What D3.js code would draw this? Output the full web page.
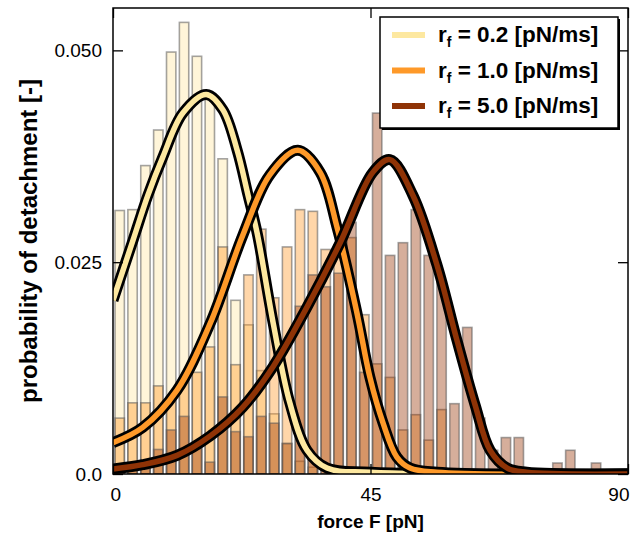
<!DOCTYPE html>
<html>
<head>
<meta charset="utf-8">
<script src="https://cdn.jsdelivr.net/npm/d3@7"></script>
<style>
  body { margin: 0; background: #fff; }
  svg { font-family: "Liberation Sans", Arial, Helvetica, sans-serif; }
</style>
</head>
<body>
<svg id="chart" width="640" height="535"></svg>
<script>
// histogram: 40 bins of 2.25 pN, probability per bin
const binWidth = 2.25;
const lowBins = [0.0311, 0.0312, 0.0364, 0.0406, 0.0498, 0.0533, 0.0493, 0.0445, 0.0372, 0.0205,
  0.0176, 0.0122, 0.0071, 0.0036, 0.0015, 0.0008, 0, 0, 0, 0,
  0, 0, 0, 0, 0, 0, 0, 0, 0, 0, 0, 0, 0, 0, 0, 0, 0, 0, 0, 0];
const midBins = [0.0066, 0.0084, 0.0084, 0.0104, 0.0090, 0.0113, 0.0120, 0.0150, 0.0268, 0.0129,
  0.0235, 0.0289, 0.0208, 0.0268, 0.0312, 0.0310, 0.0265, 0.0270, 0.0279, 0.0188,
  0.0130, 0.0114, 0.0052, 0.0070, 0.0040, 0.0076, 0, 0, 0, 0,
  0, 0, 0, 0, 0, 0, 0, 0, 0, 0];
const highBins = [0.0006, 0.0012, 0.0006, 0.0029, 0.0052, 0.0068, 0.0030, 0.0014, 0.0091, 0.0050,
  0.0044, 0.0068, 0.0060, 0.0036, 0.0198, 0.0235, 0.0221, 0.0237, 0.0297, 0.0120,
  0.0426, 0.0258, 0.0273, 0.0312, 0.0258, 0.0228, 0.0083, 0.0173, 0.0066, 0.0028,
  0.0043, 0.0043, 0, 0, 0.0013, 0.0028, 0, 0.0013, 0, 0];

// fitted curves, [force, probability]
const lowCurve = [[0, 0.0205], [3.5, 0.0276], [6.1, 0.0329], [8.7, 0.0374], [12.2, 0.0426], [16.3, 0.0448],
  [19.2, 0.0430], [21.7, 0.0382], [23.6, 0.0329], [25.2, 0.0284], [28.0, 0.0178], [30.9, 0.0084],
  [33.9, 0.0028], [37.4, 0.0007], [45, 0.0002], [90, 0]];
const midCurve = [[0, 0.0037], [5.2, 0.0055], [11.2, 0.0099], [17.0, 0.0178], [22.7, 0.0282], [27.4, 0.0353],
  [32.3, 0.0382], [36.2, 0.0356], [39.2, 0.0290], [42.6, 0.0191], [44.9, 0.0114], [47.2, 0.0060],
  [49.6, 0.0020], [51.9, 0.0007], [56.6, 0.0002], [90, 0]];
const highCurve = [[0, 0.0006], [5.2, 0.0011], [11.2, 0.0022], [17.0, 0.0045], [22.7, 0.0079], [28.0, 0.0127],
  [33.9, 0.0197], [39.7, 0.0273], [45.4, 0.0356], [48.4, 0.0371], [52.4, 0.0329], [56.6, 0.0247],
  [60.1, 0.0158], [63.3, 0.0081], [65.9, 0.0028], [68.9, 0.0007], [72.3, 0.0002], [90, 0]];

const rates = ['0.2', '1.0', '5.0'];
const colors = ['#fde8a0', '#fe9929', '#8f3306'];
const barColors = ['#fee391', '#fe9929', '#993404'];
const barOpacity = [0.35, 0.4, 0.4];
const xTicks = [0, 45, 90];
const yTicks = [0, 0.025, 0.05];
const yTickLabels = ['0.0', '0.025', '0.050'];

const series = rates.map((r, i) => ({
  rate: r,
  color: colors[i],
  barColor: barColors[i],
  opacity: barOpacity[i],
  bins: [lowBins, midBins, highBins][i],
  curve: [lowCurve, midCurve, highCurve][i]
}));

let svg = d3.select('#chart');

let plot = { left: 113, right: 628, top: 8, bottom: 474 };

let x = d3.scaleLinear().domain([0, 90]).range([plot.left, plot.right]);
let y = d3.scaleLinear().domain([0, 0.055]).range([plot.bottom, plot.top]);

svg.append('clipPath').attr('id', 'clip')
  .append('rect')
  .attr('x', plot.left).attr('y', plot.top)
  .attr('width', plot.right - plot.left).attr('height', plot.bottom - plot.top);

let body = svg.append('g').attr('clip-path', 'url(#clip)');

// bars
series.forEach(s => {
  body.append('g')
    .selectAll('rect')
    .data(s.bins.map((v, i) => ({ i: i, v: v })).filter(d => d.v > 0))
    .enter()
    .append('rect')
    .attr('x', d => x(d.i * binWidth) + 2)
    .attr('width', d => x((d.i + 1) * binWidth) - x(d.i * binWidth) - 3.5)
    .attr('y', d => y(d.v))
    .attr('height', d => y(0) - y(d.v))
    .attr('fill', s.barColor)
    .attr('fill-opacity', s.opacity)
    .attr('stroke', 'rgba(90,90,90,0.55)')
    .attr('stroke-width', 1.6);
});

// curves
let line = d3.line()
  .x(d => x(d[0]))
  .y(d => y(d[1]))
  .curve(d3.curveCatmullRom.alpha(0.5));

series.forEach(s => {
  body.append('path')
    .attr('d', line(s.curve))
    .attr('fill', 'none')
    .attr('stroke', '#000')
    .attr('stroke-width', 11)
    .attr('stroke-linejoin', 'round');
  body.append('path')
    .attr('d', line(s.curve))
    .attr('fill', 'none')
    .attr('stroke', s.color)
    .attr('stroke-width', 5.5)
    .attr('stroke-linejoin', 'round');
});

// axes, ticks pointing inward on all sides
let axisLeft = d3.axisLeft(y).tickValues(yTicks).tickSize(-10).tickPadding(11)
  .tickFormat((d, i) => yTickLabels[i]);
let axisRight = d3.axisRight(y).tickValues(yTicks).tickSize(-10).tickFormat('');
let axisBottom = d3.axisBottom(x).tickValues(xTicks).tickSize(-10).tickPadding(14);
let axisTop = d3.axisTop(x).tickValues(xTicks).tickSize(-10).tickFormat('');

let axisGroups = [[axisLeft, `translate(${plot.left},0)`], [axisRight, `translate(${plot.right},0)`],
 [axisBottom, `translate(0,${plot.bottom})`], [axisTop, `translate(0,${plot.top})`]].map(a => {
  let g = svg.append('g').attr('transform', a[1]).call(a[0]);
  g.select('.domain').remove();
  g.selectAll('.tick line').attr('stroke', '#000').attr('stroke-width', 1.3);
  g.selectAll('.tick text').attr('fill', '#000').style('font-size', '19px')
    .style('font-family', '"Liberation Sans", Arial, sans-serif');
  return g;
});

// end labels of the x axis sit inside the frame edges
axisGroups[2].selectAll('.tick text')
  .attr('text-anchor', d => d === 0 ? 'start' : d === 90 ? 'end' : 'middle')
  .attr('dx', d => d === 0 ? -3 : d === 90 ? 1 : 0);

svg.append('rect')
  .attr('x', plot.left).attr('y', plot.top)
  .attr('width', plot.right - plot.left).attr('height', plot.bottom - plot.top)
  .attr('fill', 'none').attr('stroke', '#000').attr('stroke-width', 1.5);

// axis titles
svg.append('text')
  .attr('x', (plot.left + plot.right) / 2)
  .attr('y', 528)
  .attr('text-anchor', 'middle')
  .style('font-size', '19px').style('font-weight', 'bold')
  .text('force F [pN]');

svg.append('text')
  .attr('transform', `translate(37, ${(plot.top + plot.bottom) / 2}) rotate(-90)`)
  .attr('text-anchor', 'middle')
  .style('font-size', '24px').style('font-weight', 'bold')
  .text('probability of detachment [-]');

// legend
let legend = svg.append('g');
legend.append('rect')
  .attr('x', 382).attr('y', 19).attr('width', 238).attr('height', 111)
  .attr('fill', '#000');
legend.append('rect')
  .attr('x', 380).attr('y', 17).attr('width', 238).attr('height', 111)
  .attr('fill', '#fff').attr('stroke', '#000').attr('stroke-width', 1.5);

let items = legend.selectAll('.item')
  .data(series)
  .enter()
  .append('g')
  .attr('class', 'item')
  .attr('transform', (d, i) => `translate(0, ${35 + i * 35.5})`);

items.append('line')
  .attr('x1', 392).attr('x2', 425)
  .attr('stroke', d => d.color)
  .attr('stroke-width', 6);

let label = items.append('text')
  .attr('x', 438).attr('y', 7)
  .style('font-size', '22.5px').style('font-weight', 'bold');
label.append('tspan').text('r');
label.append('tspan').attr('dy', 5).style('font-size', '14px').text('f');
label.append('tspan').attr('dy', -5).text(d => ` = ${d.rate} [pN/ms]`);
</script>
</body>
</html>
